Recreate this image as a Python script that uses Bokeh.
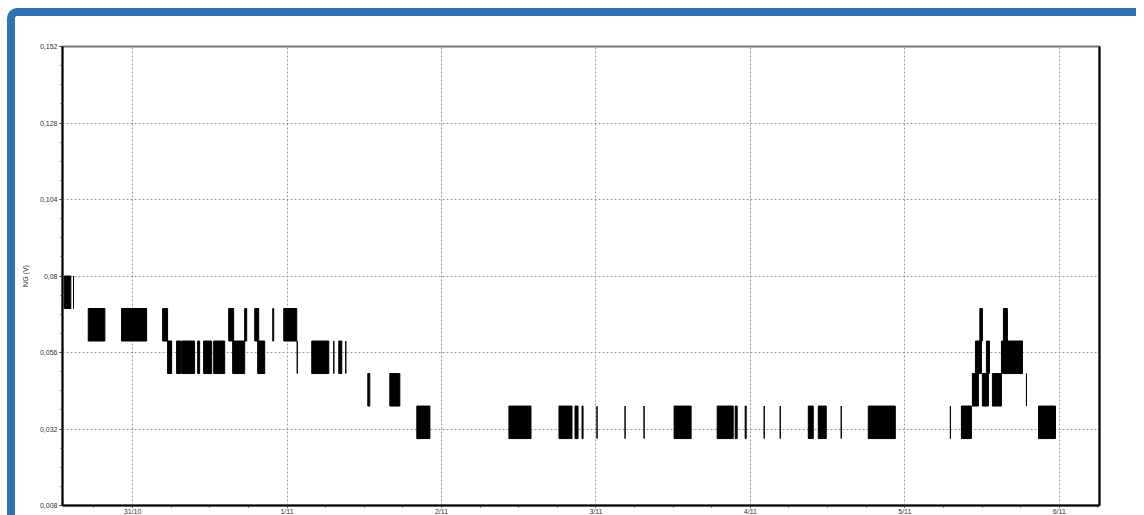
from bokeh.plotting import figure
from bokeh.models import FixedTicker, LinearAxis, Range1d, ColumnDataSource
from bokeh.embed import file_html
from bokeh.resources import INLINE

# Quantised signal levels (V)
levels = [0.0290, 0.0392, 0.0494, 0.0596, 0.0698, 0.0800]

# Bursts of toggling between two adjacent levels: time in hours from 31/10 00:00
burst_start = [-10.62, -9.18, -6.89, -1.71, 4.67, 5.44, 6.84, 7.62, 10.11, 11.04,
               12.60, 14.93, 15.55, 17.42, 18.98, 19.44, 21.78, 23.49, 25.59, 27.84,
               31.27, 32.04, 33.13, 36.55, 39.97, 44.17, 58.48, 66.26, 68.75, 69.84,
               72.17, 76.53, 79.48, 84.15, 90.84, 93.64, 95.19, 98.15, 100.64, 105.00,
               106.55, 110.12, 114.32, 127.08, 128.79, 130.50, 130.97, 131.66, 132.05, 132.68,
               133.61, 135.01, 135.32, 138.90, 140.77]
burst_end = [-9.60, -9.18, -4.31, 2.18, 5.44, 6.07, 7.47, 9.64, 10.42, 12.29,
             14.31, 15.71, 17.42, 17.73, 19.60, 20.53, 21.93, 25.51, 25.59, 30.49,
             31.27, 32.51, 33.13, 36.86, 41.53, 46.20, 61.91, 68.28, 69.22, 70.00,
             72.17, 76.53, 79.48, 86.79, 93.33, 93.95, 95.35, 98.15, 100.64, 105.77,
             107.79, 110.12, 118.52, 127.08, 130.35, 131.43, 131.90, 132.05, 132.99, 133.15,
             135.01, 138.28, 135.94, 138.90, 143.41]
burst_low = [4, 4, 3, 3, 3, 2, 2, 2, 2, 2,
             2, 3, 2, 3, 3, 2, 3, 3, 2, 2,
             2, 2, 2, 1, 1, 0, 0, 0, 0, 0,
             0, 0, 0, 0, 0, 0, 0, 0, 0, 0,
             0, 0, 0, 0, 0, 1, 2, 3, 1, 2,
             1, 2, 3, 1, 0]

# Axis ticks
x_tick_hours = [0, 24, 48, 72, 96, 120, 144]
x_tick_labels = ["31/10", "1/11", "2/11", "3/11", "4/11", "5/11", "6/11"]
y_ticks = [0.008, 0.032, 0.056, 0.080, 0.104, 0.128, 0.152]
y_tick_labels = ["0,008", "0,032", "0,056", "0,08", "0,104", "0,128", "0,152"]

src = ColumnDataSource(dict(
    left=burst_start,
    right=burst_end,
    bottom=[levels[i] for i in burst_low],
    top=[levels[i + 1] for i in burst_low],
))

p = figure(width=1129, height=521,
           x_range=Range1d(-10.89, 150.25), y_range=Range1d(0.008, 0.152),
           output_backend="svg", toolbar_location=None,
           min_border_left=47, min_border_top=30, min_border_right=45, min_border_bottom=32)
p.styles = {"margin-left": "7px", "margin-top": "8px",
            "border-left": "8px solid #2E74B5", "border-top": "8px solid #2E74B5",
            "border-top-left-radius": "10px"}
p.background_fill_color = "white"
p.border_fill_color = "white"
p.outline_line_color = "#777777"
p.outline_line_width = 2

p.quad(left="left", right="right", bottom="bottom", top="top", source=src,
       fill_color="black", line_color="black", line_width=1)

font = "Liberation Sans"
xt = FixedTicker(ticks=x_tick_hours, minor_ticks=list(range(-6, 151, 6)))
p.xaxis.ticker = xt
p.xaxis.major_label_overrides = {float(t): l for t, l in zip(x_tick_hours, x_tick_labels)}
yt = FixedTicker(ticks=y_ticks, minor_ticks=[0.008 + 0.006 * i for i in range(25)])
p.yaxis.ticker = yt
p.yaxis.major_label_overrides = {t: l for t, l in zip(y_ticks, y_tick_labels)}

for ax in (p.xaxis[0], p.yaxis[0]):
    ax.axis_line_color = "black"
    ax.axis_line_width = 2
    ax.major_tick_line_color = "#333333"
    ax.minor_tick_line_color = "#333333"
    ax.major_tick_in = 0
    ax.major_tick_out = 3
    ax.minor_tick_in = 0
    ax.minor_tick_out = 2
    ax.major_label_text_font = font
    ax.major_label_text_font_size = "7px"
    ax.major_label_text_color = "#333333"
    ax.major_label_standoff = 2

p.xaxis.major_tick_out = 2
p.xaxis.major_label_standoff = 0

p.yaxis.axis_label = "NG (V)"
p.yaxis.axis_label_text_font = font
p.yaxis.axis_label_text_font_size = "7px"
p.yaxis.axis_label_text_font_style = "normal"
p.yaxis.axis_label_text_color = "#333333"
p.yaxis.axis_label_standoff = 8

right_ax = LinearAxis(ticker=FixedTicker(ticks=[], minor_ticks=[]),
                      major_tick_line_color=None, minor_tick_line_color=None,
                      axis_line_color="black", axis_line_width=2)
p.add_layout(right_ax, "right")

p.xgrid.ticker = xt
p.ygrid.ticker = yt
for g in (p.xgrid[0], p.ygrid[0]):
    g.grid_line_color = "#999999"
    g.grid_line_dash = "2 2"
    g.grid_line_width = 1

open("out.html", "w").write(file_html(p, INLINE))
